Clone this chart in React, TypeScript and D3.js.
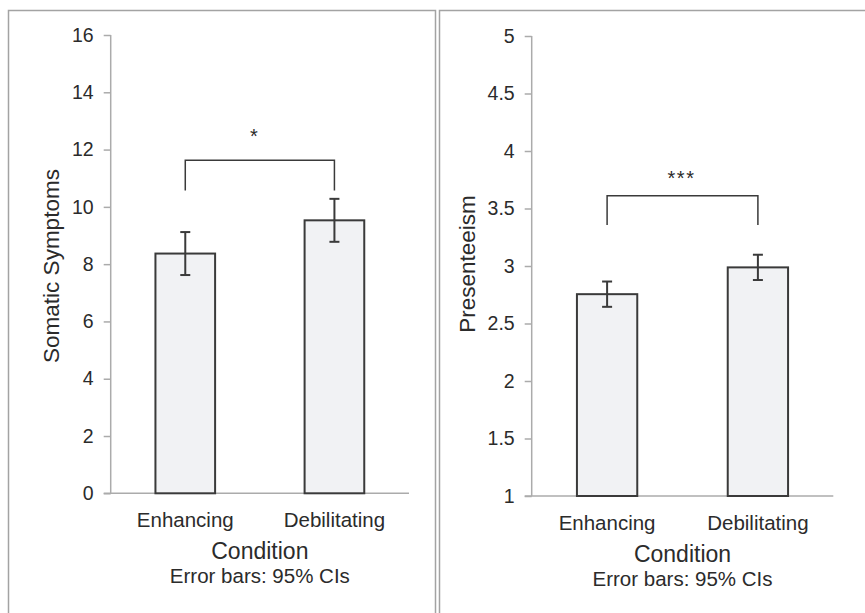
import React, { useEffect, useRef } from 'react';
import * as d3 from 'd3';

// Data
const categories = ['Enhancing', 'Debilitating'];

const somaticMeans = [8.37, 9.53];
const somaticCI = [0.75, 0.75];
const somaticTicks = [0, 2, 4, 6, 8, 10, 12, 14, 16];
const somaticBracket = [11.63, 10.57]; // bar level, leg end
const somaticStarAt = 12.63;

const presMeans = [2.755, 2.988];
const presCI = [0.11, 0.11];
const presTicks = [1, 1.5, 2, 2.5, 3, 3.5, 4, 4.5, 5];
const presBracket = [3.61, 3.357];
const presStarAt = 3.806;

const FONT = "'Liberation Sans', Arial, Helvetica, sans-serif";
const TEXT = '#2b2b2b';
const AXIS = '#ababab';
const BAR_STROKE = '#3a3a3a';

const App = () => {
  const chartRef = useRef<SVGSVGElement>(null);

  useEffect(() => {
    const width = 865;
    const height = 613;
    const svg = d3.select(chartRef.current).attr('width', width).attr('height', height);
    svg.selectAll('*').remove();

    // panel frames
    svg
      .append('rect')
      .attr('x', 8.5)
      .attr('y', 10.5)
      .attr('width', 427)
      .attr('height', 640)
      .attr('fill', 'none')
      .attr('stroke', '#a3a3a3')
      .attr('stroke-width', 1.5);
    svg
      .append('rect')
      .attr('x', 439.5)
      .attr('y', 10.5)
      .attr('width', 500)
      .attr('height', 640)
      .attr('fill', 'none')
      .attr('stroke', '#a3a3a3')
      .attr('stroke-width', 1.5);

    const panels = [
      {
        x0: 110.7, x1: 409, y0: 493.3, y1: 35,
        domain: [0, 16], ticks: somaticTicks, means: somaticMeans, ci: somaticCI,
        bracket: somaticBracket, starAt: somaticStarAt, star: '*', starDx: -6,
        yLabel: 'Somatic Symptoms', yLabelX: 59, yLabelY: 266,
      },
      {
        x0: 531.7, x1: 833.3, y0: 496, y1: 36,
        domain: [1, 5], ticks: presTicks, means: presMeans, ci: presCI,
        bracket: presBracket, starAt: presStarAt, star: '***', starDx: -1,
        yLabel: 'Presenteeism', yLabelX: 475, yLabelY: 264,
      },
    ];

    panels.forEach((p) => {
      const g = svg.append('g');

      const xScale = d3
        .scaleBand()
        .domain(categories)
        .range([p.x0, p.x1])
        .paddingInner(0.6)
        .paddingOuter(0.3);

      const yScale = d3.scaleLinear().domain(p.domain).range([p.y0, p.y1]);

      // Y axis
      const yAxis = g
        .append('g')
        .attr('transform', `translate(${p.x0}, 0)`)
        .call(d3.axisLeft(yScale).tickValues(p.ticks).tickSize(7).tickPadding(10).tickFormat((d) => `${d}`));
      yAxis.select('.domain').attr('stroke', AXIS).attr('stroke-width', 1.5).attr('d', `M0,${p.y1}V${p.y0}`);
      yAxis.selectAll('.tick line').attr('stroke', AXIS).attr('stroke-width', 1.5);
      yAxis
        .selectAll('.tick text')
        .style('font-family', FONT)
        .style('font-size', '19.5px')
        .attr('fill', TEXT);

      // X axis line
      g.append('line')
        .attr('x1', p.x0 - 7)
        .attr('x2', p.x1)
        .attr('y1', p.y0)
        .attr('y2', p.y0)
        .attr('stroke', AXIS)
        .attr('stroke-width', 1.5);

      // Bars
      g.selectAll('.bar')
        .data(categories)
        .enter()
        .append('rect')
        .attr('class', 'bar')
        .attr('x', (d) => xScale(d)!)
        .attr('y', (d, i) => yScale(p.means[i]))
        .attr('width', xScale.bandwidth())
        .attr('height', (d, i) => yScale(p.domain[0]) - yScale(p.means[i]))
        .attr('fill', '#f1f2f4')
        .attr('stroke', BAR_STROKE)
        .attr('stroke-width', 2);

      // Error bars
      const cx = (d: string) => xScale(d)! + xScale.bandwidth() / 2;
      const eb = g
        .selectAll('.err')
        .data(categories)
        .enter()
        .append('g')
        .attr('class', 'err')
        .attr('stroke', BAR_STROKE)
        .attr('stroke-width', 2);
      eb.append('line')
        .attr('x1', cx)
        .attr('x2', cx)
        .attr('y1', (d, i) => yScale(p.means[i] + p.ci[i]))
        .attr('y2', (d, i) => yScale(p.means[i] - p.ci[i]));
      eb.append('line')
        .attr('x1', (d) => cx(d) - 5)
        .attr('x2', (d) => cx(d) + 5)
        .attr('y1', (d, i) => yScale(p.means[i] + p.ci[i]))
        .attr('y2', (d, i) => yScale(p.means[i] + p.ci[i]));
      eb.append('line')
        .attr('x1', (d) => cx(d) - 5)
        .attr('x2', (d) => cx(d) + 5)
        .attr('y1', (d, i) => yScale(p.means[i] - p.ci[i]))
        .attr('y2', (d, i) => yScale(p.means[i] - p.ci[i]));

      // Significance bracket
      const bx0 = cx(categories[0]);
      const bx1 = cx(categories[1]);
      const path = d3.path();
      path.moveTo(bx0, yScale(p.bracket[1]));
      path.lineTo(bx0, yScale(p.bracket[0]));
      path.lineTo(bx1, yScale(p.bracket[0]));
      path.lineTo(bx1, yScale(p.bracket[1]));
      g.append('path')
        .attr('d', path.toString())
        .attr('fill', 'none')
        .attr('stroke', BAR_STROKE)
        .attr('stroke-width', 1.5);
      g.append('text')
        .attr('x', (bx0 + bx1) / 2 + p.starDx)
        .attr('y', yScale(p.starAt) + 11.5)
        .attr('text-anchor', 'middle')
        .style('font-family', FONT)
        .style('font-size', '20px')
        .style('letter-spacing', p.star.length > 1 ? '1.5px' : '0px')
        .attr('fill', TEXT)
        .text(p.star);

      // Category labels
      g.selectAll('.cat')
        .data(categories)
        .enter()
        .append('text')
        .attr('class', 'cat')
        .attr('x', cx)
        .attr('y', p.y0 + 34)
        .attr('text-anchor', 'middle')
        .style('font-family', FONT)
        .style('font-size', '20.5px')
        .attr('fill', TEXT)
        .text((d) => d);

      const midX = (p.x0 + p.x1) / 2;
      g.append('text')
        .attr('x', midX)
        .attr('y', p.y0 + 66)
        .attr('text-anchor', 'middle')
        .style('font-family', FONT)
        .style('font-size', '23px')
        .attr('fill', TEXT)
        .text('Condition');
      g.append('text')
        .attr('x', midX)
        .attr('y', p.y0 + 90)
        .attr('text-anchor', 'middle')
        .style('font-family', FONT)
        .style('font-size', '20.5px')
        .attr('fill', TEXT)
        .text('Error bars: 95% CIs');

      // Y axis title
      g.append('text')
        .attr('transform', `translate(${p.yLabelX}, ${p.yLabelY}) rotate(-90)`)
        .attr('text-anchor', 'middle')
        .style('font-family', FONT)
        .style('font-size', '22.5px')
        .attr('fill', TEXT)
        .text(p.yLabel);
    });
  }, []);

  return <svg ref={chartRef} style={{ position: 'absolute', left: 0, top: 0, background: '#fff' }}></svg>;
};

export default App;
